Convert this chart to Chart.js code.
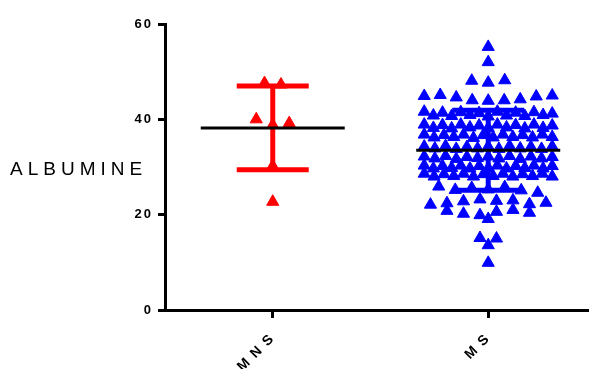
<!DOCTYPE html>
<html>
<head>
<meta charset="utf-8">
<script src="https://cdn.jsdelivr.net/npm/chart.js@4.4.0/dist/chart.umd.min.js"></script>
<style>
  body { margin: 0; background: #fff; }
  #wrap { position: relative; width: 590px; height: 369px; }
</style>
</head>
<body>
<div id="wrap"><canvas id="myChart" width="590" height="369"></canvas></div>
<script>
// data
const categories = ['MNS', 'MS'];
const mnsValues = [47.6, 47.3, 40.0, 38.8, 39.2, 30.2, 22.7];
const msValues = [
  55.2,
  52.0,
  48.1, 47.7, 48.2,
  44.9, 45.1, 44.6, 44.0, 43.9, 44.0, 44.2, 44.8, 45.0,
  41.6, 40.8, 41.4, 40.7, 41.5, 40.9, 41.3, 40.6, 41.6, 40.8, 41.4, 40.7, 41.5, 40.9, 41.2,
  38.9, 38.2, 38.8, 38.1, 38.9, 38.3, 38.7, 38.2, 38.9, 38.3, 38.8, 38.1, 38.9, 38.2, 38.7,
  36.8, 36.2, 36.7, 36.3, 36.8, 36.1, 36.7, 36.2, 36.8, 36.3, 36.7, 36.2, 36.8, 36.3,
  34.3, 33.9, 34.4, 33.8, 34.2, 33.9, 34.3, 33.8, 34.4, 33.9, 34.2, 33.8, 34.3,
  32.2, 31.8, 32.3, 31.7, 32.1, 31.9, 32.2, 31.8, 32.3, 31.7, 32.2, 31.8, 32.1,
  30.3, 29.7, 30.2, 29.8, 30.3, 29.7, 30.2, 29.8, 30.3, 29.7, 30.2, 29.8, 30.3, 29.7, 30.2,
  28.6, 28.0, 28.5, 28.1, 28.6, 28.0, 28.5, 28.1, 28.6, 28.0, 28.5, 28.1, 28.6, 28.0,
  25.9, 25.2, 25.6, 25.3, 25.8, 25.1, 24.6,
  22.1, 22.4, 22.8, 23.2, 22.9, 23.0, 22.2, 22.5,
  20.8, 20.2, 19.9, 20.6, 21.0, 20.4,
  19.1,
  15.1, 15.0,
  13.6,
  9.9
];
const groupMeans = [38.2, 33.5];
const groupSDs = [8.8, 8.4];
const yTicks = [0, 20, 40, 60];

const colors = ['#ff0000', '#0000ff'];
const PX_PER_UNIT = 215.5;

// prism-like scatter: rows of close values spread out side by side
function swarm(values, center) {
  const rows = [];
  values.forEach(v => {
    const r = rows[rows.length - 1];
    if (r && Math.abs(v - r[0]) <= 1.3) r.push(v);
    else rows.push([v]);
  });
  const pts = [];
  rows.forEach(r => {
    const n = r.length;
    const step = n > 1 ? Math.min(16.5, 128 / (n - 1)) : 0;
    r.forEach((v, i) => pts.push({ x: center + (i - (n - 1) / 2) * step / PX_PER_UNIT, y: v }));
  });
  return pts;
}

const datasets = [];
[mnsValues, msValues].forEach((vals, i) => {
  const c = i + 1;
  const m = groupMeans[i], sd = groupSDs[i];
  const capW = 36 / PX_PER_UNIT, meanW = 72 / PX_PER_UNIT;
  // mean line
  datasets.push({ data: [{ x: c - meanW, y: m }, { x: c + meanW, y: m }], showLine: true,
    borderColor: '#000', borderWidth: 3, pointRadius: 0, borderCapStyle: 'butt', order: 1 });
  // sd bar
  datasets.push({ data: [{ x: c, y: m - sd }, { x: c, y: m + sd }], showLine: true,
    borderColor: colors[i], borderWidth: 5, pointRadius: 0, borderCapStyle: 'butt', order: 2 });
  datasets.push({ data: [{ x: c - capW, y: m + sd }, { x: c + capW, y: m + sd }], showLine: true,
    borderColor: colors[i], borderWidth: 5, pointRadius: 0, borderCapStyle: 'butt', order: 2 });
  datasets.push({ data: [{ x: c - capW, y: m - sd }, { x: c + capW, y: m - sd }], showLine: true,
    borderColor: colors[i], borderWidth: 5, pointRadius: 0, borderCapStyle: 'butt', order: 2 });
  // points
  datasets.push({ label: categories[i], data: swarm(vals, c), pointStyle: 'triangle',
    pointRadius: 7, pointBackgroundColor: colors[i], pointBorderColor: colors[i],
    pointBorderWidth: 1, showLine: false, order: 3 });
});

const textPlugin = {
  id: 'textPlugin',
  beforeDraw(chart) {
    chart.ctx.letterSpacing = '2px';
  },
  afterDraw(chart) {
    const ctx = chart.ctx;
    ctx.save();
    ctx.letterSpacing = '5px';
    ctx.font = '19px "Liberation Sans", Arial, sans-serif';
    ctx.fillStyle = '#000';
    ctx.textBaseline = 'middle';
    ctx.textAlign = 'left';
    ctx.fillText('ALBUMINE', 10, 170);
    ctx.restore();
    ctx.letterSpacing = '0px';
  }
};

const ctx = document.getElementById('myChart').getContext('2d');
const myChart = new Chart(ctx, {
  type: 'scatter',
  data: { datasets: datasets },
  options: {
    responsive: false,
    animation: false,
    layout: { autoPadding: false, padding: { top: 24, right: 2, left: 0, bottom: 0 } },
    plugins: { legend: { display: false }, tooltip: { enabled: false } },
    scales: {
      x: {
        type: 'linear', min: 0.5, max: 2.463,
        afterFit(scale) {
          scale.height = 59;
          scale.paddingLeft = 0;
          scale.paddingRight = 0;
        },
        afterBuildTicks(scale) { scale.ticks = categories.map((c, i) => ({ value: i + 1 })); },
        ticks: {
          callback: v => categories[v - 1].split('').join('\u2009'),
          minRotation: 45, maxRotation: 45, autoSkip: false,
          color: '#000', padding: 12,
          font: { family: '"Liberation Sans", Arial, sans-serif', size: 14, weight: 'bold' }
        },
        grid: { drawOnChartArea: false, tickLength: 8, tickWidth: 3, tickColor: '#000' },
        border: { color: '#000', width: 3 }
      },
      y: {
        min: 0, max: 60,
        afterFit(scale) { scale.width = 165; },
        afterBuildTicks(scale) { scale.ticks = yTicks.map(v => ({ value: v })); },
        ticks: {
          color: '#000', padding: 5,
          font: { family: '"Liberation Sans", Arial, sans-serif', size: 13, weight: 'bold' }
        },
        grid: { drawOnChartArea: false, tickLength: 7, tickWidth: 3, tickColor: '#000' },
        border: { color: '#000', width: 3 }
      }
    }
  },
  plugins: [textPlugin]
});
</script>
</body>
</html>
